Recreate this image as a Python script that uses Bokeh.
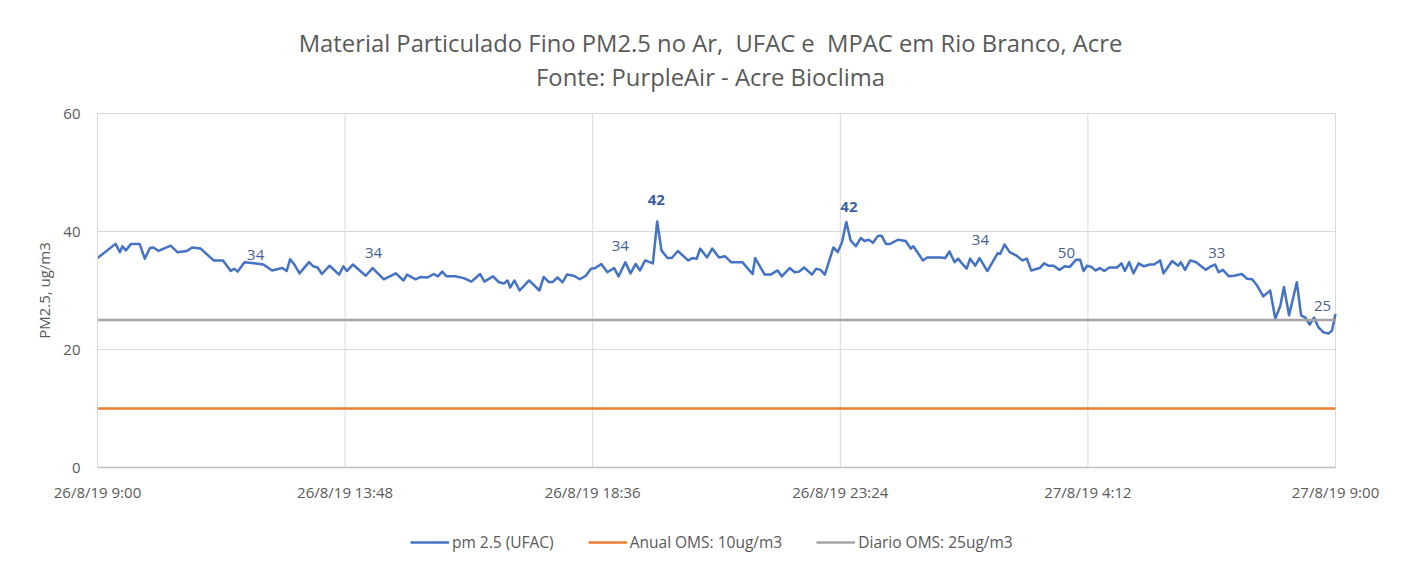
from bokeh.plotting import figure
from bokeh.models import Range1d, FixedTicker, Title, Legend, LegendItem, ColumnDataSource
from bokeh.core.properties import value
from bokeh.embed import file_html
from bokeh.resources import INLINE

# ---- data (minutes after 26/8/19 9:00) ----
minutes = [0, 21, 26, 29, 33, 39, 49, 55, 61, 65, 71, 85, 93, 104, 110, 120, 135, 146, 155, 159, 163, 171, 182, 193, 203,
           215, 220, 224, 229, 235, 246, 251, 256, 261, 270, 281, 286,
           290, 297, 312, 320, 333, 347, 356, 360, 370, 376, 384, 391, 396, 401, 406, 416, 426, 435, 445, 450, 460, 467,
           473, 477, 480, 485, 491, 502, 514, 519, 525, 530, 535, 541, 546, 554, 561, 568, 574, 579,
           586, 593, 601, 606, 614, 620, 626, 631, 637, 646, 651, 656, 663, 668, 675, 687, 692, 697, 701, 709, 715, 723,
           730, 737, 750, 762, 765, 776, 783, 791, 796, 805, 811, 816, 822, 831, 836, 841, 846, 856, 861, 866,
           871, 876, 882, 888, 892, 897, 902, 908, 912, 917, 922, 931, 940, 946, 949, 960, 965, 981, 986, 991, 997, 1001,
           1006, 1011, 1015, 1021, 1026, 1035, 1047, 1050, 1055, 1061, 1069, 1076, 1081, 1086, 1096, 1101, 1106, 1112,
           1119, 1125, 1131, 1138, 1143, 1147, 1151, 1156, 1161,
           1166, 1171, 1177, 1186, 1191, 1195, 1200, 1205, 1211, 1217, 1224, 1229, 1236, 1240, 1250, 1257, 1260, 1265,
           1271, 1278, 1283, 1289, 1295, 1300, 1304, 1309, 1316, 1322, 1331, 1337, 1343, 1349, 1356, 1364, 1370, 1376,
           1380, 1386, 1395, 1400, 1405, 1410, 1415, 1420, 1426, 1432, 1436, 1440]
pm25_ufac = [35.5, 37.9, 36.5, 37.5, 36.8, 37.9, 37.9, 35.4, 37.2, 37.3, 36.7, 37.6, 36.5, 36.7, 37.3, 37.1, 35.1, 35.1,
             33.3, 33.7, 33.2, 34.8, 34.6, 34.4, 33.4, 33.8, 33.3, 35.3, 34.4, 32.9, 34.8, 34.1, 33.9, 32.8, 34.2, 32.7, 34.1,
             33.3, 34.4, 32.5, 33.8, 31.9, 32.9, 31.7, 32.7, 31.9, 32.3, 32.2, 32.8, 32.4, 33.2, 32.4, 32.4, 32.1, 31.5,
             32.8, 31.5, 32.4, 31.4, 31.2, 31.7, 30.5, 31.7, 30.0, 31.7, 30.0, 32.3, 31.4, 31.5, 32.2, 31.4, 32.7, 32.5,
             31.9, 32.5, 33.7, 33.8,
             34.5, 33.1, 33.8, 32.4, 34.8, 32.9, 34.5, 33.4, 35.1, 34.6, 41.7, 36.8, 35.5, 35.5, 36.7, 35.1, 35.5, 35.4,
             37.1, 35.6, 37.1, 35.6, 35.8, 34.8, 34.8, 32.8, 35.5, 32.7, 32.7, 33.4, 32.4, 33.8, 33.1, 33.2, 33.9, 32.7,
             33.7, 33.5, 32.7, 37.3, 36.5, 38.2,
             41.6, 38.5, 37.5, 38.9, 38.4, 38.6, 38.1, 39.3, 39.3, 37.9, 37.9, 38.6, 38.4, 37.1, 37.5, 35.1, 35.6, 35.6,
             35.5, 36.6, 34.8, 35.4, 34.5, 33.7, 35.4, 34.2, 35.5, 33.3, 36.3, 36.2, 37.8, 36.5, 35.9, 35.1, 35.4, 33.4,
             33.8, 34.6, 34.2, 34.2, 33.5, 34.1, 34.0, 35.2, 35.2, 33.3, 34.2, 34.0, 33.4,
             33.8, 33.3, 33.9, 33.9, 34.6, 33.3, 34.8, 32.9, 34.6, 34.1, 34.4, 34.4, 35.1, 32.9, 35.0, 34.2, 34.8, 33.5,
             35.1, 34.8, 34.2, 33.5, 34.1, 34.4, 33.1, 33.5, 32.4, 32.5, 32.8, 32.0, 31.9, 30.8, 29.0, 30.0, 25.2, 27.5,
             30.6, 25.8, 31.4, 25.8, 25.4, 24.2, 25.4, 23.8, 22.9, 22.7, 23.2, 26.0]
anual_oms = 10
diario_oms = 25

x_tick_minutes = [0, 288, 576, 864, 1152, 1440]
x_tick_labels = ["26/8/19 9:00", "26/8/19 13:48", "26/8/19 18:36", "26/8/19 23:24", "27/8/19 4:12", "27/8/19 9:00"]
y_ticks = [0, 20, 40, 60]

# data labels (minute, label centre value, text)
label_minutes = [184, 321, 608, 1027, 1127, 1302, 1425]
label_values = [36.1, 36.4, 37.5, 38.5, 36.4, 36.3, 27.3]
label_texts = ["34", "34", "34", "34", "50", "33", "25"]
bold_minutes = [650, 874]
bold_values = [45.3, 44.2]
bold_texts = ["42", "42"]

FONT = "Open Sans"
GREY_TXT = "#595959"
SMALL = "15px"
GRID = "#d9d9d9"

# ---- layout: the frame is larger than the data area so axes, labels and legend live inside it ----
PX_PER_MIN = 1238 / 1440
PX_PER_UNIT = 354 / 60
X_START = x_tick_minutes[0] - 77 / PX_PER_MIN
X_END = x_tick_minutes[-1] + 65 / PX_PER_MIN
Y_START = y_ticks[0] - 103 / PX_PER_UNIT
Y_END = y_ticks[-1] + 15 / PX_PER_UNIT

p = figure(frame_width=1380, frame_height=472, output_backend="svg", toolbar_location=None,
           x_range=Range1d(X_START, X_END), y_range=Range1d(Y_START, Y_END),
           min_border_left=20, min_border_right=10, min_border_top=98, min_border_bottom=0)
p.outline_line_color = None
p.background_fill_color = "white"
p.border_fill_color = "white"

# titles
sub = Title(text="Fonte: PurpleAir - Acre Bioclima", align="center", text_font=FONT,
            text_font_size="23.8px", text_font_style="normal", text_color=GREY_TXT, standoff=12)
main = Title(text="Material Particulado Fino PM2.5 no Ar,\u00a0 UFAC e\u00a0 MPAC em Rio Branco, Acre", align="center",
             text_font=FONT, text_font_size="23.8px", text_font_style="normal", text_color=GREY_TXT, standoff=-13)
p.add_layout(sub, "above")
p.add_layout(main, "above")

# axes (drawn inside the frame at the data origin)
p.xaxis.ticker = FixedTicker(ticks=x_tick_minutes)
p.xaxis.major_label_overrides = {t: l for t, l in zip(x_tick_minutes, x_tick_labels)}
p.xaxis.fixed_location = y_ticks[0]
p.xaxis.bounds = (x_tick_minutes[0], x_tick_minutes[-1])
p.yaxis.ticker = FixedTicker(ticks=y_ticks)
p.yaxis.fixed_location = x_tick_minutes[0]
p.yaxis.bounds = (y_ticks[0], y_ticks[-1])
for ax in (p.xaxis[0], p.yaxis[0]):
    ax.major_tick_line_color = None
    ax.minor_tick_line_color = None
    ax.major_label_text_font = FONT
    ax.major_label_text_font_size = SMALL
    ax.major_label_text_color = GREY_TXT
p.xaxis.axis_line_color = "#bfbfbf"
p.xaxis.axis_line_width = 1.5
p.yaxis.axis_line_color = GRID
p.xaxis.major_label_standoff = 8
p.yaxis.major_label_standoff = 11
p.yaxis.axis_label = "PM2.5, ug/m3"
p.yaxis.axis_label_text_font = FONT
p.yaxis.axis_label_text_font_size = SMALL
p.yaxis.axis_label_text_font_style = "normal"
p.yaxis.axis_label_text_color = GREY_TXT
p.yaxis.axis_label_standoff = 6

# grid lines only over the data area
p.xgrid.visible = False
p.ygrid.visible = False
vx = x_tick_minutes[1:]
p.segment(x0=vx, y0=[y_ticks[0]] * len(vx), x1=vx, y1=[y_ticks[-1]] * len(vx), line_color=GRID, line_width=1)
hy = y_ticks[1:]
p.segment(x0=[x_tick_minutes[0]] * len(hy), y0=hy, x1=[x_tick_minutes[-1]] * len(hy), y1=hy,
          line_color=GRID, line_width=1)

# series
src = ColumnDataSource(dict(x=minutes, y=pm25_ufac))
r1 = p.line("x", "y", source=src, line_color="#4472C4", line_width=2.5, line_join="round")
xr = [minutes[0], minutes[-1]]
r2 = p.line(xr, [anual_oms, anual_oms], line_color="#ED7D31", line_width=2.5)
r3 = p.line(xr, [diario_oms, diario_oms], line_color="#A5A5A5", line_width=2.5)

p.text(label_minutes, label_values, text=label_texts, text_font=value(FONT), text_font_size=SMALL,
       text_color="#44609A", text_align="center", text_baseline="middle")
p.text(bold_minutes, bold_values, text=bold_texts, text_font=value(FONT), text_font_size=SMALL,
       text_font_style="bold", text_color="#3A5FA8", text_align="center", text_baseline="middle")

legend = Legend(items=[LegendItem(label="pm 2.5 (UFAC)", renderers=[r1]),
                       LegendItem(label="Anual OMS: 10ug/m3", renderers=[r2]),
                       LegendItem(label="Diario OMS: 25ug/m3", renderers=[r3])],
                orientation="horizontal", location=(390, 17), border_line_color=None,
                background_fill_alpha=0, label_text_font=FONT, label_text_font_size="15.5px",
                label_text_color=GREY_TXT, glyph_width=39, label_standoff=3, spacing=34,
                margin=0, padding=0)
p.add_layout(legend, "center")

open("out.html", "w").write(file_html(p, INLINE))
